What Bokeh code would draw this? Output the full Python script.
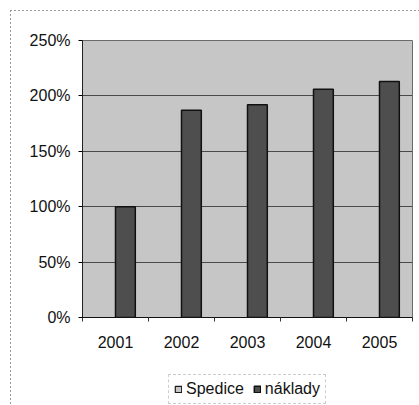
from bokeh.plotting import figure
from bokeh.layouts import column
from bokeh.models import Range1d, FixedTicker, PrintfTickFormatter, Legend, LegendItem
from bokeh.transform import dodge
from bokeh.embed import file_html
from bokeh.resources import INLINE

years = [2001, 2002, 2003, 2004, 2005]
spedice = [0, 0, 0, 0, 0]
naklady = [100, 187, 192, 206, 213]
y_ticks = [0, 50, 100, 150, 200, 250]
series_names = ["Spedice", "náklady"]

FONT = "Liberation Sans"
FS = "16px"
BG = "#c6c6c6"
BAR = "#4e4e4e"

# ---------------- main chart ----------------
p = figure(width=419, height=357, output_backend="svg", toolbar_location=None,
           x_range=Range1d(years[0] - 0.5, years[-1] + 0.5),
           y_range=Range1d(y_ticks[0], y_ticks[-1]),
           min_border_left=82, min_border_right=7, min_border_top=40, min_border_bottom=40)

p.background_fill_color = BG
p.border_fill_color = None
p.outline_line_color = "#6a6a6a"
p.outline_line_width = 1

src = dict(x=years, s=spedice, n=naklady)
p.vbar(x=dodge("x", -0.15, range=p.x_range), top="s", width=0.3, source=src,
       fill_color=BG, line_color="#1a1a1a", line_width=1.2)
p.vbar(x=dodge("x", 0.15, range=p.x_range), top="n", width=0.3, source=src,
       fill_color=BAR, line_color="#111111", line_width=1.5)

p.xgrid.visible = False
p.ygrid.ticker = FixedTicker(ticks=y_ticks)
p.ygrid.grid_line_color = "#4a4a4a"
p.ygrid.grid_line_width = 1

ya = p.yaxis[0]
ya.ticker = FixedTicker(ticks=y_ticks)
ya.formatter = PrintfTickFormatter(format="%d%%")
ya.axis_line_color = "#222222"
ya.major_tick_out = 4
ya.major_tick_in = 0
ya.minor_tick_out = 0
ya.minor_tick_in = 0
ya.major_label_standoff = 8
ya.major_label_text_font = FONT
ya.major_label_text_font_size = FS
ya.major_label_text_color = "#111111"

xa = p.xaxis[0]
xa.ticker = FixedTicker(ticks=years, minor_ticks=[y - 0.5 for y in years] + [years[-1] + 0.5])
xa.formatter = PrintfTickFormatter(format="%d")
xa.axis_line_color = "#111111"
xa.major_tick_out = 0
xa.major_tick_in = 0
xa.minor_tick_out = 4
xa.minor_tick_in = 0
xa.minor_tick_line_color = "#333333"
xa.major_label_standoff = 14
xa.major_label_text_font = FONT
xa.major_label_text_font_size = FS
xa.major_label_text_color = "#111111"

# ---------------- legend strip ----------------
q = figure(width=419, height=48, output_backend="svg", toolbar_location=None,
           x_range=Range1d(0, 1), y_range=Range1d(0, 1),
           min_border=0, x_axis_type=None, y_axis_type=None)
q.background_fill_color = None
q.border_fill_color = None
q.outline_line_color = None
q.xgrid.visible = False
q.ygrid.visible = False
# legend proxies (hidden renderers, only their legend swatches are shown)
l1 = q.vbar(x="x", top="s", width=0.3, source=src,
            fill_color=BG, line_color="#1a1a1a", line_width=1.2, visible=False)
l2 = q.vbar(x="x", top="n", width=0.3, source=src,
            fill_color=BAR, line_color="#111111", line_width=1.5, visible=False)

legend = Legend(items=[LegendItem(label=series_names[0], renderers=[l1]),
                       LegendItem(label=series_names[1], renderers=[l2])],
                orientation="horizontal", location="top_center",
                glyph_width=8, glyph_height=8, label_standoff=4, spacing=9,
                padding=5, margin=17,
                label_text_font=FONT, label_text_font_size=FS, label_text_color="#111111",
                border_line_color="#9a9a9a", border_line_dash="2 1",
                background_fill_color="white", background_fill_alpha=1.0,
                inactive_fill_alpha=0.0)
q.add_layout(legend)

page = column(p, q, spacing=0)
page.styles = {
    "background-image": ("repeating-linear-gradient(to bottom, #9a9a9a 0 2px, transparent 2px 4px), "
                         "repeating-linear-gradient(to right, #9a9a9a 0 2px, transparent 2px 4px)"),
    "background-size": "1px 395px, 409px 1px",
    "background-position": "10px 10px, 10px 10px",
    "background-repeat": "no-repeat",
}

open("out.html", "w").write(file_html(page, INLINE))
